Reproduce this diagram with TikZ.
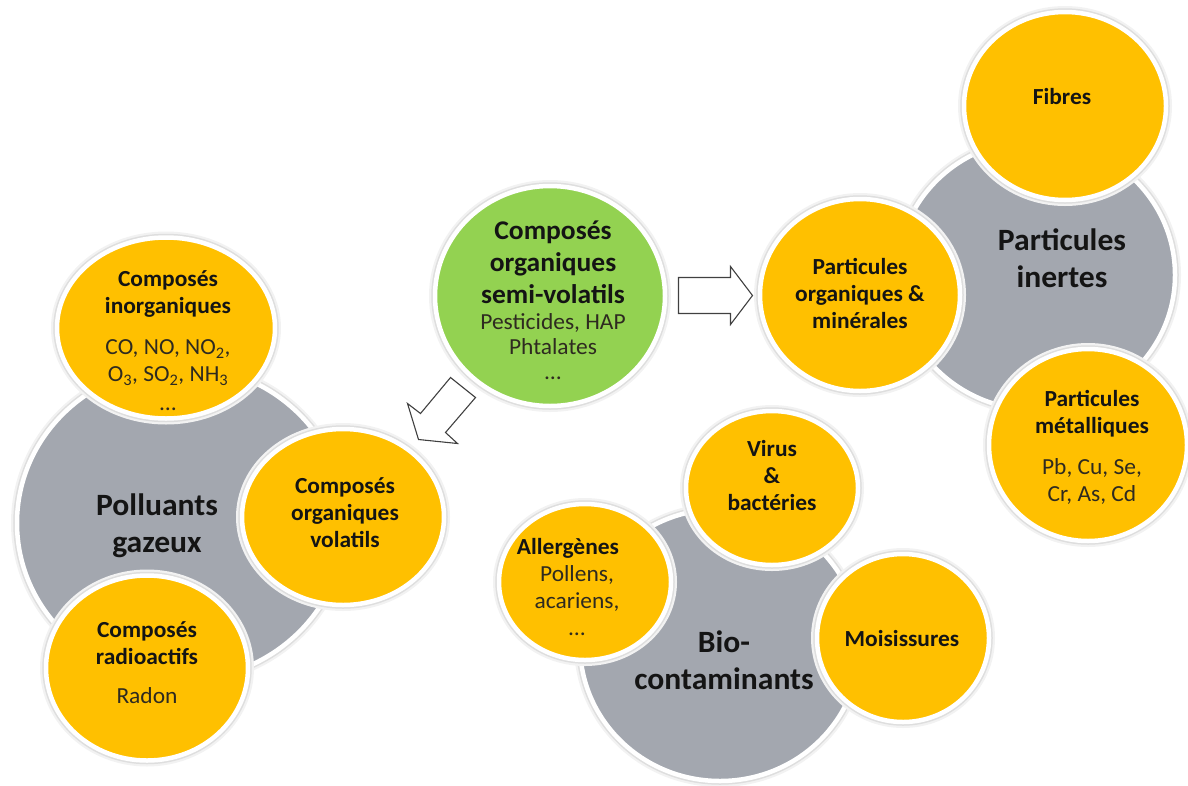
\documentclass[tikz,border=0pt]{standalone}
\usepackage{fontspec}
\setmainfont{Carlito}[FakeStretch=1.02]
\usetikzlibrary{shapes.geometric,calc}
\definecolor{yA}{HTML}{FFC000}
\definecolor{yB}{HTML}{E09E00}
\definecolor{gA}{HTML}{A3A7AF}
\definecolor{gB}{HTML}{868B94}
\definecolor{grA}{HTML}{93D251}
\definecolor{grB}{HTML}{6FB23A}
\definecolor{bodyc}{HTML}{2E2A20}
\definecolor{ttlc}{HTML}{141414}
\pgfdeclareradialshading{yball}{\pgfpoint{0bp}{10bp}}{color(0bp)=(yA); color(30bp)=(yA); color(46bp)=(yB); color(50bp)=(yB)}
\pgfdeclareradialshading{gball}{\pgfpoint{0bp}{10bp}}{color(0bp)=(gA); color(30bp)=(gA); color(47bp)=(gB); color(50bp)=(gB)}
\pgfdeclareradialshading{grball}{\pgfpoint{0bp}{10bp}}{color(0bp)=(grA); color(30bp)=(grA); color(47bp)=(grB); color(50bp)=(grB)}
\newcommand\tb[1]{\textbf{#1}}
\newcommand\bd[1]{\textcolor{bodyc}{#1}}
\newcommand\gt[1]{{\fontsize{27}{32}\selectfont\bfseries #1}}
\begin{document}
\begin{tikzpicture}[x=1pt,y=-1pt,
  circ/.style={ellipse, inner sep=0pt, draw=white, line width=4.5pt,
     preaction={draw=black!5, line width=12pt},
     preaction={draw=black!13, line width=7.5pt}},
  ycirc/.style={circ, shading=yball},
  gcirc/.style={circ, shading=gball},
  grcirc/.style={circ, shading=grball},
  txt/.style={align=center, inner sep=0pt, text=ttlc, font=\fontsize{23}{27}\selectfont},
  bigtxt/.style={align=center, inner sep=0pt, text=ttlc, font=\fontsize{31}{37}\selectfont\bfseries},
  blockarrow/.style={draw=black!75, fill=white, line width=1.1pt, line join=miter}
]
\useasboundingbox (0,0) rectangle (1188,785);

% ---- Polluants gazeux
\node[gcirc, minimum width=328pt, minimum height=314pt] (pol) at (181,523) {};
\node[ycirc, minimum width=218pt, minimum height=181pt] (inorg) at (166,328) {};
\node[ycirc, minimum width=202pt, minimum height=176pt] (vol) at (343,517) {};
\node[ycirc, minimum width=202pt, minimum height=185pt] (rad) at (147,668) {};
\node[bigtxt] (polT) at (157,526) {Polluants\\gazeux};
\node[txt] (inorgT) at (168,341) {\tb{Composés}\\\tb{inorganiques}\\[14pt]\bd{CO, NO, NO\textsubscript{2},}\\\bd{O\textsubscript{3}, SO\textsubscript{2}, NH\textsubscript{3}}\\[2pt]\bd{…}};
\node[txt] (volT) at (345,513) {\tb{Composés}\\\tb{organiques}\\\tb{volatils}};
\node[txt] (radT) at (147,663) {\tb{Composés}\\\tb{radioactifs}\\[12pt]\bd{Radon}};

% ---- Particules inertes
\node[gcirc, minimum width=278pt, minimum height=270pt] (iner) at (1036,275) {};
\node[ycirc, minimum width=202pt, minimum height=188pt] (fib) at (1065,106) {};
\node[ycirc, minimum width=200pt, minimum height=192pt] (orgmin) at (860,295) {};
\node[ycirc, minimum width=198pt, minimum height=192pt] (met) at (1088,445) {};
\node[bigtxt] (inerT) at (1062,258) {Particules\\inertes};
\node[txt] (fibT) at (1062,97) {\tb{Fibres}};
\node[txt] (orgminT) at (860,293) {\tb{Particules}\\\tb{organiques \&}\\\tb{minérales}};
\node[txt] (metT) at (1092,447) {\tb{Particules}\\\tb{métalliques}\\[14pt]\bd{Pb, Cu, Se,}\\\bd{Cr, As, Cd}};

% ---- Bio-contaminants
\node[gcirc, minimum width=280pt, minimum height=272pt] (bio) at (720,645) {};
\node[ycirc, minimum width=172pt, minimum height=156pt] (all) at (585,582) {};
\node[ycirc, minimum width=172pt, minimum height=154pt] (vir) at (772,488) {};
\node[ycirc, minimum width=172pt, minimum height=168pt] (moi) at (903,638) {};
\node[bigtxt] (bioT) at (724,660) {Bio-\\contaminants};
\node[txt] (allT) at (577,587) {\tb{Allergènes}\hspace*{18pt}\\\bd{Pollens,}\\\bd{acariens,}\\\bd{…}};
\node[txt] (virT) at (772,476) {\tb{Virus}\\\tb{\&}\\\tb{bactéries}};
\node[txt] (moiT) at (902,639) {\tb{Moisissures}};

% ---- Composés organiques semi-volatils
\node[grcirc, minimum width=230pt, minimum height=220pt] (green) at (550,296) {};
\node[txt] (greenT) at (553,300) {\gt{Composés}\\[5pt]\gt{organiques}\\[5pt]\gt{semi-volatils}\\[-1pt]\bd{Pesticides, HAP}\\[-2pt]\bd{Phtalates}\\[-2pt]\bd{…}};

% ---- block arrows
\coordinate (arrR) at ($(green.east)!0.5!(orgmin.west)$);
\coordinate (arrD) at ($(green)!0.5!(vol)$);
\draw[blockarrow, shift={(arrR)}] (-34,-18) -- (18,-18) -- (18,-29) -- (40,0) -- (18,29) -- (18,18) -- (-34,18) -- cycle;
\draw[blockarrow, shift={(arrD)}] (4,-29) -- (29,-9) -- (-1,26) -- (11,37) -- (-28,33) -- (-39,-3) -- (-26,7) -- cycle;
\end{tikzpicture}
\end{document}
